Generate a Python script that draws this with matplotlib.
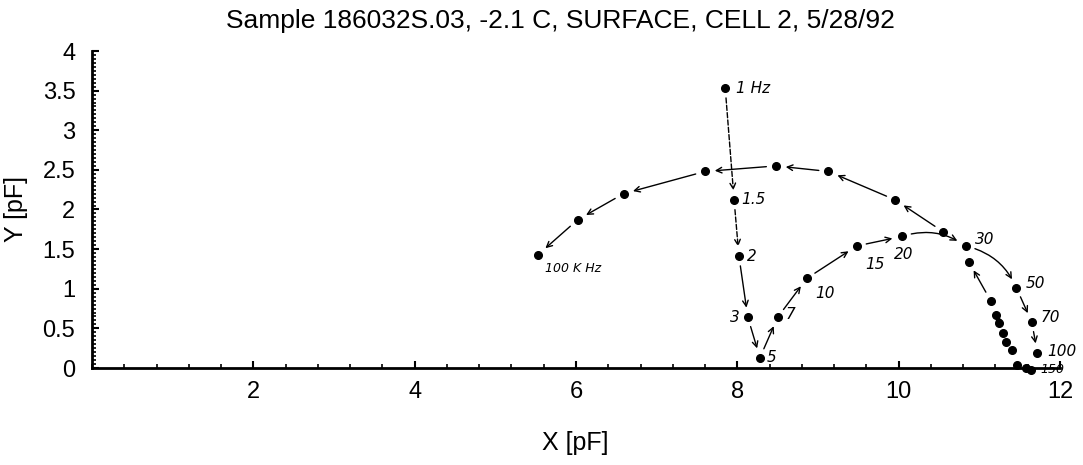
import numpy as np
import matplotlib
matplotlib.use("Agg")
import matplotlib.pyplot as plt
from matplotlib.ticker import MultipleLocator, FixedLocator

plt.rcParams['font.family'] = ['Liberation Sans', 'DejaVu Sans']

# capacitance sweep, 1 Hz -> 100 kHz, in the order the points were measured
x_pf = [7.85, 7.96, 8.02, 8.13, 8.28, 8.50, 8.86, 9.48, 10.04, 10.83,
        11.46, 11.65, 11.72, 11.64, 11.58, 11.47, 11.40, 11.33, 11.29, 11.25,
        11.21, 11.14, 10.87, 10.55, 9.96, 9.13, 8.48, 7.60, 6.59, 6.02, 5.53]
y_pf = [3.53, 2.12, 1.41, 0.64, 0.13, 0.64, 1.13, 1.54, 1.66, 1.54,
        1.01, 0.58, 0.19, -0.02, 0.00, 0.04, 0.23, 0.33, 0.44, 0.57,
        0.67, 0.85, 1.34, 1.72, 2.12, 2.48, 2.55, 2.48, 2.20, 1.87, 1.43]

# pen notes written next to some of the points (index -> text)
freq_idx = [0, 1, 2, 3, 4, 5, 6, 7, 8, 9, 10, 11, 12, 13, 30]
freq_txt = ["1 Hz", "1.5", "2", "3", "5", "7", "10", "15", "20", "30",
            "50", "70", "100", "150", "100 K Hz"]

# pen arrows drawn between consecutive points (start index)
arrow_from = [0, 1, 2, 3, 4, 5, 6, 7, 8, 9, 10, 11,
              19, 21, 23, 24, 25, 26, 27, 28, 29]

# label placement: offset in points
lab_off = {0: (8, 0), 1: (5, 0), 2: (6, 0), 3: (-6, 0), 4: (5, 0),
           5: (6, 2), 6: (6, -11), 7: (6, -13), 8: (1, -13), 9: (7, 5),
           10: (7, 3), 11: (6, 3), 12: (7, 1), 13: (7, 0), 30: (5, -10)}

fig = plt.figure(figsize=(10.83, 4.65), dpi=100)
ax = fig.add_axes([92 / 1083, 1 - 368 / 465, 968 / 1083, 317 / 465])

ax.plot(x_pf, y_pf, "o", color="k", ms=5.5, zorder=3, clip_on=False)

for i, t in zip(freq_idx, freq_txt):
    dx, dy = lab_off[i]
    ha = "right" if dx < 0 else "left"
    if i == 8:
        ha = "center"
    fs = 9 if i in (13, 30) else 11
    ax.annotate(t, (x_pf[i], y_pf[i]), xytext=(dx, dy),
                textcoords="offset points", ha=ha, va="center",
                fontsize=fs, family="DejaVu Sans", style="italic",
                annotation_clip=False)

for i in arrow_from:
    ls = "--" if i in (0, 1) else "-"
    rad = -0.25 if i in (8, 9) else 0.0
    ax.annotate("", xy=(x_pf[i + 1], y_pf[i + 1]), xytext=(x_pf[i], y_pf[i]),
                arrowprops=dict(arrowstyle="->", lw=1.0, color="k",
                                linestyle=ls, shrinkA=7, shrinkB=7,
                                connectionstyle="arc3,rad=%g" % rad))

ax.set_xlim(0, 12)
ax.set_ylim(0, 4)
ax.xaxis.set_major_locator(FixedLocator([2, 4, 6, 8, 10, 12]))
ax.xaxis.set_minor_locator(MultipleLocator(0.4))
ax.yaxis.set_major_locator(MultipleLocator(0.5))
ax.yaxis.set_minor_locator(MultipleLocator(0.05))
ax.yaxis.set_major_formatter(lambda v, p: "%g" % v)

for s in ["top", "right"]:
    ax.spines[s].set_visible(False)
for s in ["left", "bottom"]:
    ax.spines[s].set_linewidth(2.0)

ax.tick_params(which="both", direction="in", labelsize=17)
ax.tick_params(which="major", length=5, width=1.5)
ax.tick_params(axis="x", which="major", pad=9)
ax.tick_params(axis="y", which="major", pad=12)
ax.tick_params(which="minor", length=3, width=1.2)

ax.set_xlabel("X [pF]", fontsize=18)
ax.set_ylabel("Y [pF]", fontsize=18)
ax.xaxis.set_label_coords(0.499, -0.20)
ax.yaxis.set_label_coords(-0.066, 0.5)

fig.text(560 / 1083, 1 - 21 / 465,
         "Sample 186032S.03, -2.1 C, SURFACE, CELL 2, 5/28/92",
         ha="center", va="center", fontsize=19)

fig.savefig("out.png", dpi=100)
